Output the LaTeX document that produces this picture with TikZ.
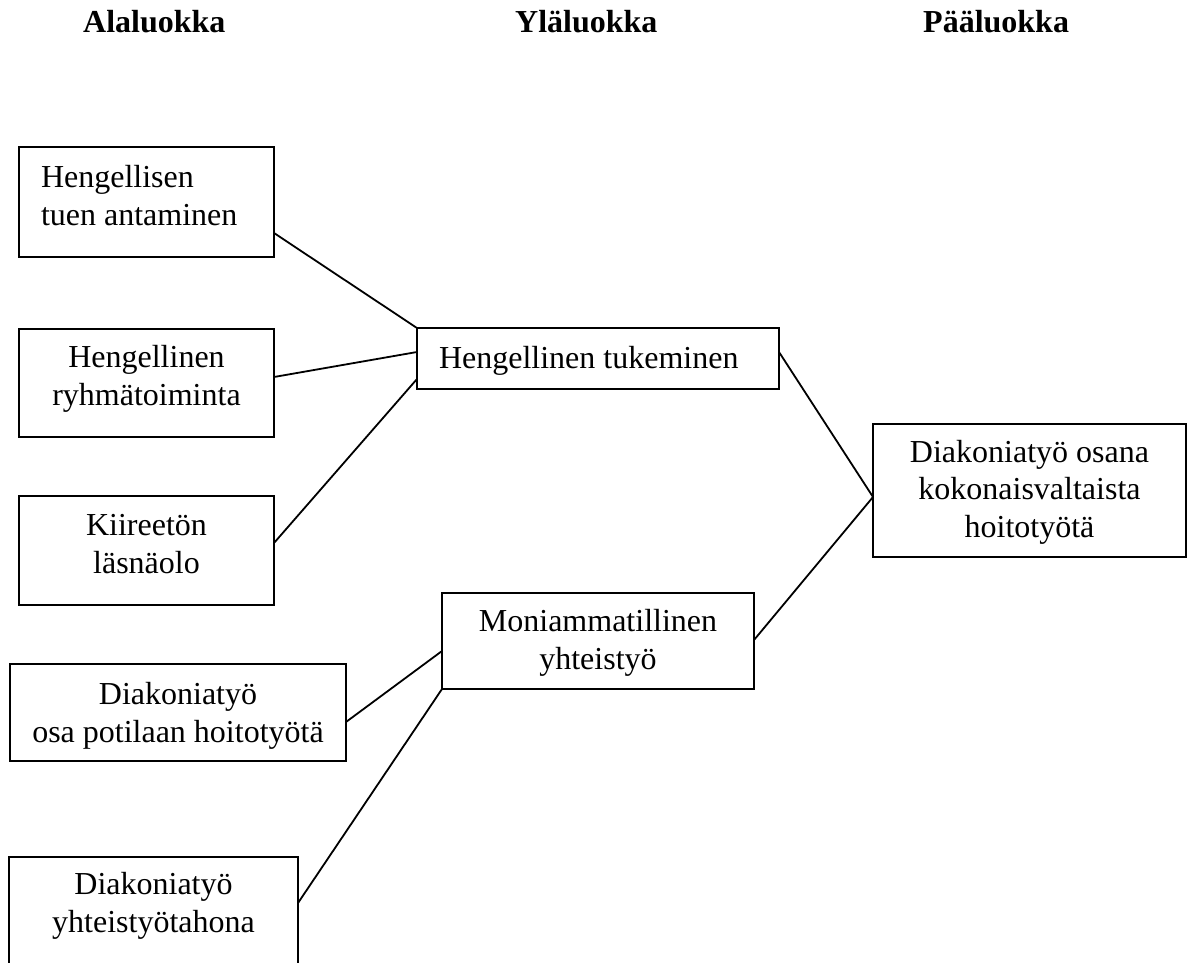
\documentclass[tikz,border=0pt]{standalone}
\usepackage{fontspec}
\setmainfont{Liberation Serif}
\usetikzlibrary{calc}
\begin{document}
\begin{tikzpicture}[x=1pt,y=-1pt,
  box/.style={draw=black,line width=1.8pt,inner sep=0pt,outer sep=0pt,anchor=north west},
  txt/.style={inner sep=0pt,outer sep=0pt,font=\fontsize{32}{37.5}\selectfont},
  head/.style={inner sep=0pt,anchor=base west,font=\fontsize{32}{37.5}\selectfont\bfseries},
  link/.style={line width=1.8pt,line cap=round}]
\fill[white] (0,0) rectangle (1188,963);
\useasboundingbox (0,0) rectangle (1188,963);
% headers
\node[head] (h1) at (83,33) {Alaluokka};
\node[head] (h2) at (515,33) {Yläluokka};
\node[head] (h3) at (923,33) {Pääluokka};
% boxes
\node[box,minimum width=255pt,minimum height=110pt] (b1) at (19,147) {};
\node[box,minimum width=255pt,minimum height=108pt] (b2) at (19,329) {};
\node[box,minimum width=255pt,minimum height=109pt] (b3) at (19,496) {};
\node[box,minimum width=336pt,minimum height=97pt] (b4) at (10,664) {};
\node[box,minimum width=289pt,minimum height=112pt] (b5) at (9,857) {};
\node[box,minimum width=362pt,minimum height=61pt] (b6) at (417,328) {};
\node[box,minimum width=312pt,minimum height=96pt] (b7) at (442,593) {};
\node[box,minimum width=313pt,minimum height=133pt] (b8) at (873,424) {};
% texts (anchor base = baseline of the last line)
\node[txt,anchor=base west,align=left] (t1) at (41,225) {Hengellisen\\tuen antaminen};
\node[txt,anchor=base,align=center] (t2) at (146.5,405) {Hengellinen\\ryhmätoiminta};
\node[txt,anchor=base,align=center] (t3) at (146.5,573) {Kiireetön\\läsnäolo};
\node[txt,anchor=base,align=center] (t4) at (178,742) {Diakoniatyö\\osa potilaan hoitotyötä};
\node[txt,anchor=base,align=center] (t5) at (153.5,932) {Diakoniatyö\\yhteistyötahona};
\node[txt,anchor=base west] (t6) at (439,368) {Hengellinen tukeminen};
\node[txt,anchor=base,align=center] (t7) at (598,669) {Moniammatillinen\\yhteistyö};
\node[txt,anchor=base,align=center] (t8) at (1029.5,537) {Diakoniatyö osana\\kokonaisvaltaista\\hoitotyötä};
% connectors
\draw[link] ($(b1.north east)+(0,86)$) -- (b6.north west);
\draw[link] ($(b2.north east)+(0,48)$) -- ($(b6.north west)+(0,24)$);
\draw[link] ($(b3.north east)+(0,47)$) -- ($(b6.north west)+(0,51)$);
\draw[link] ($(b6.north east)+(0,24)$) -- ($(b8.north west)+(0,73)$);
\draw[link] ($(b7.north east)+(0,47)$) -- ($(b8.north west)+(0,73)$);
\draw[link] ($(b4.north east)+(0,58)$) -- ($(b7.north west)+(0,58)$);
\draw[link] ($(b5.north east)+(0,46)$) -- (b7.south west);
\end{tikzpicture}
\end{document}
